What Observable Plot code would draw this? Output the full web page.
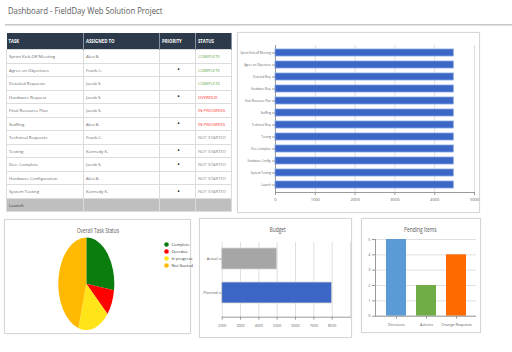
<!DOCTYPE html>
<html><head><meta charset="utf-8">
<script src="https://cdn.jsdelivr.net/npm/d3@7"></script>
<script src="https://cdn.jsdelivr.net/npm/@observablehq/plot@0.6"></script>
<style>
html,body{margin:0;padding:0;background:#fff;width:512px;height:352px;overflow:hidden;font-family:"Open Sans",Lato,sans-serif;position:relative;}
.panel{position:absolute;border:1px solid #d6d6d6;box-sizing:border-box;background:#fff;box-shadow:0 0 1px #e6e6e6;}
.ptitle{position:absolute;font-size:7px;color:#595959;white-space:nowrap;transform-origin:center center;}
#maintitle{position:absolute;left:8px;top:4px;font-size:9px;color:#5a5a5a;white-space:nowrap;transform-origin:left top;}
#rule{position:absolute;left:5px;top:24px;width:507px;height:1px;background:#c8c8c8;border-bottom:1px solid #e2e2e2;}
table{position:absolute;left:6px;top:33px;width:225px;border-collapse:collapse;table-layout:fixed;font-size:4.3px;color:#6a6a6a;}
th{background:#2c3a4c;color:#fff;text-align:left;font-weight:bold;height:16px;padding:0 0 0 2px;border-right:1px solid #8892a0;}
td{height:12.5px;padding:0 0 0 2px;border:1px solid #dcdcdc;white-space:nowrap;overflow:hidden;}
td.pri{text-align:center;color:#222;font-size:7px;}
tr.launch td{background:#bfbfbf;color:#333;}
.plotbox{position:absolute;}
</style></head>
<body>
<div id="maintitle">Dashboard - FieldDay Web Solution Project</div>
<div id="rule"></div>
<script>
// ---------- data ----------
const tableHeaders = ["TASK", "ASSIGNED TO", "PRIORITY", "STATUS"];
const taskNames = ["Sprint Kick-Off Meeting", "Agree on Objectives", "Detailed Requests", "Hardware Request", "Final Resource Plan", "Staffing", "Technical Requests", "Testing", "Dev. Complete", "Hardware Configuration", "System Testing", "Launch"];
const assignedTo = ["Alex B.", "Frank C.", "Jacob S.", "Jacob S.", "Jacob S.", "Alex B.", "Frank C.", "Kennedy K.", "Jacob S.", "Alex B.", "Kennedy K.", ""];
const priorityMarks = ["", "•", "", "•", "", "•", "", "•", "•", "", "•", ""];
const statusText = ["COMPLETE", "COMPLETE", "COMPLETE", "OVERDUE", "IN PROGRESS", "IN PROGRESS", "NOT STARTED", "NOT STARTED", "NOT STARTED", "NOT STARTED", "NOT STARTED", ""];
const statusTextColors = {"COMPLETE": "#63a846", "OVERDUE": "#ff2a2a", "IN PROGRESS": "#ff3b3b", "NOT STARTED": "#8c8c8c", "": "#333"};

const ganttLabels = ["Sprint Kick-off Meeting", "Agree on Objectives", "Detailed Req.", "Hardware Req.", "Final Resource Plan", "Staffing", "Technical Req.", "Testing", "Dev. Complete", "Hardware Config.", "System Testing", "Launch"];
const ganttValues = [4480, 4480, 4480, 4480, 4480, 4480, 4480, 4480, 4480, 4480, 4480, 4480];
const ganttTicks = [0, 1000, 2000, 3000, 4000, 5000];

const statusCategories = ["Complete", "Overdue", "In progress", "Not Started"];
const statusCounts = [3, 1, 2, 5];
const statusColors = ["#0b7d0e", "#ff0000", "#ffe41a", "#ffb900"];

const budgetCategories = ["Actual", "Planned"];
const budgetValues = [5000, 8000];
const budgetColors = ["#a6a6a6", "#3b66c5"];
const budgetTicks = [2000, 3000, 4000, 5000, 6000, 7000, 8000];
const budgetDomain = [2000, 9000];

const pendingCategories = ["Decisions", "Actions", "Change Requests"];
const pendingValues = [5, 2, 4];
const pendingColors = ["#5b9bd5", "#70ad47", "#ff6a00"];
const pendingTicks = [0, 1, 2, 3, 4, 5];

// ---------- helpers ----------
const FONT = "'Open Sans', Lato, sans-serif";
function place(el, left, top) {
  const d = document.createElement("div");
  d.className = "plotbox";
  d.style.left = left + "px"; d.style.top = top + "px";
  d.appendChild(el);
  document.body.appendChild(d);
  return d;
}
function panel(left, top, w, h) {
  const d = document.createElement("div");
  d.className = "panel";
  Object.assign(d.style, {left: left + "px", top: top + "px", width: w + "px", height: h + "px"});
  document.body.appendChild(d);
}
function ptitle(text, cx, cy, sx) {
  const d = document.createElement("div");
  d.className = "ptitle";
  d.textContent = text;
  document.body.appendChild(d);
  const w = d.offsetWidth, h = d.offsetHeight;
  d.style.left = (cx - w / 2) + "px"; d.style.top = (cy - h / 2) + "px";
  d.style.transform = `scaleX(${sx})`;
}
const baseStyle = {background: "transparent", fontSize: "4px", fontFamily: FONT, color: "#5f5f5f", overflow: "visible"};

document.getElementById("maintitle").style.transform = "scaleX(0.86)";

// ---------- table ----------
const table = document.createElement("table");
const colW = [77, 76, 36, 36];
const cg = document.createElement("colgroup");
colW.forEach(w => { const c = document.createElement("col"); c.style.width = w + "px"; cg.appendChild(c); });
table.appendChild(cg);
const thead = document.createElement("tr");
tableHeaders.forEach(h => { const th = document.createElement("th"); th.textContent = h; thead.appendChild(th); });
table.appendChild(thead);
taskNames.forEach((t, i) => {
  const tr = document.createElement("tr");
  if (t === "Launch") tr.className = "launch";
  const cells = [t, assignedTo[i], priorityMarks[i], statusText[i]];
  cells.forEach((c, j) => {
    const td = document.createElement("td");
    td.textContent = c;
    if (j === 2) td.className = "pri";
    if (j === 3) td.style.color = statusTextColors[c];
    tr.appendChild(td);
  });
  table.appendChild(tr);
});
document.body.appendChild(table);

// ---------- gantt-like bar chart ----------
panel(237, 32, 243, 181);
const ganttData = ganttLabels.map((label, i) => ({label, value: ganttValues[i]}));
const gantt = Plot.plot({
  width: 243, height: 181,
  marginLeft: 38, marginRight: 6, marginTop: 13, marginBottom: 21,
  style: baseStyle,
  x: {domain: [0, 5000], label: null},
  y: {domain: ganttLabels, paddingInner: 0.42, paddingOuter: 0.21, label: null},
  marks: [
    Plot.gridX(ganttTicks, {stroke: "#dedede", strokeOpacity: 1}),
    Plot.ruleX([0], {stroke: "#9a9a9a"}),
    Plot.barX(ganttData, {x: "value", y: "label", fill: "#3b66c5", stroke: "#86a4e3", strokeWidth: 0.8}),
    Plot.frame({anchor: "bottom", stroke: "#9a9a9a"}),
    Plot.axisX({ticks: ganttTicks, tickSize: 3, tickPadding: 3, stroke: "#9a9a9a", fontSize: 4, label: null, tickFormat: d => String(d)}),
    Plot.axisY({tickSize: 3, tickPadding: 1.5, stroke: "#9a9a9a", fontSize: 2.9, label: null})
  ]
});
place(gantt, 237, 32);

// ---------- pie ----------
panel(4, 219, 187, 115);
ptitle("Overall Task Status", 97.5, 230, 0.68);
const pieData = statusCategories.map((status, i) => ({status, count: statusCounts[i]}));
const pieCx = 82.3, pieCy = 64.8, pieRx = 28, pieRy = 46.2;
function pieMark(index, scales) {
  const color = scales && scales.color ? scales.color : (s => statusColors[statusCategories.indexOf(s)]);
  const g = d3.create("svg:g").attr("transform", `translate(${pieCx},${pieCy}) scale(${pieRx / pieRy},1)`);
  const arcs = d3.pie().sort(null).value(d => d.count)(pieData);
  g.selectAll("path").data(arcs).join("path")
    .attr("d", d3.arc().innerRadius(0).outerRadius(pieRy))
    .attr("fill", d => color(d.data.status));
  return g.node();
}
const pie = Plot.plot({
  width: 187, height: 115,
  marginLeft: 0, marginRight: 0, marginTop: 0, marginBottom: 0,
  style: baseStyle,
  color: {domain: statusCategories, range: statusColors},
  y: {type: "point", domain: statusCategories, range: [21, 49.5], axis: null},
  marks: [
    pieMark,
    Plot.dot(pieData, {y: "status", fill: "status", r: 2.3, frameAnchor: "left", dx: 162}),
    Plot.text(pieData, {y: "status", text: "status", frameAnchor: "left", dx: 167, textAnchor: "start", fontSize: 4, fill: "#333"})
  ]
});
place(pie, 4, 219);

// ---------- budget ----------
panel(199, 218, 153, 120);
ptitle("Budget", 277, 229, 0.7);
const budgetData = budgetCategories.map((cat, i) => ({cat, value: budgetValues[i]}));
const budget = Plot.plot({
  width: 153, height: 120,
  marginLeft: 22.7, marginRight: 2, marginTop: 24, marginBottom: 21.3,
  style: baseStyle,
  x: {domain: budgetDomain, label: null},
  y: {domain: budgetCategories, range: [23.9, 92.5], paddingInner: 0.37, paddingOuter: 0.185, label: null},
  color: {domain: budgetCategories, range: budgetColors},
  marks: [
    Plot.gridX(d3.range(budgetDomain[0], budgetDomain[1] + 1, 1000), {stroke: "#e0e0e0", strokeOpacity: 1}),
    Plot.barX(budgetData, {x1: budgetDomain[0], x2: "value", y: "cat", fill: "cat", stroke: "#d4d4d4", strokeWidth: 0.8}),
    Plot.frame({anchor: "bottom", stroke: "#9a9a9a"}),
    Plot.axisX({ticks: budgetTicks, tickSize: 3, tickPadding: 4, stroke: "#9a9a9a", fontSize: 3.6, label: null, tickFormat: d => String(d)}),
    Plot.axisY({tickSize: 3, tickPadding: 1.5, stroke: "#9a9a9a", fontSize: 3.8, label: null})
  ]
});
place(budget, 199, 218);

// ---------- pending ----------
panel(361, 218, 120, 115);
ptitle("Pending Items", 420, 229, 0.7);
const pendingData = pendingCategories.map((cat, i) => ({cat, value: pendingValues[i]}));
const pending = Plot.plot({
  width: 120, height: 115,
  marginLeft: 14, marginRight: 5, marginTop: 21, marginBottom: 17.3,
  style: baseStyle,
  x: {domain: pendingCategories, padding: 0.34, label: null},
  y: {domain: [0, 5], label: null},
  color: {domain: pendingCategories, range: pendingColors},
  marks: [
    Plot.gridY(pendingTicks, {stroke: "#e0e0e0", strokeOpacity: 1}),
    Plot.barY(pendingData, {x: "cat", y: "value", fill: "cat"}),
    Plot.ruleY([0], {stroke: "#9a9a9a"}),
    Plot.frame({anchor: "left", stroke: "#9a9a9a"}),
    Plot.axisX({tickSize: 3, tickPadding: 4, stroke: "#9a9a9a", fontSize: 3.8, label: null}),
    Plot.axisY({ticks: pendingTicks, tickSize: 3, tickPadding: 2, stroke: "#9a9a9a", fontSize: 3.8, label: null, tickFormat: d => String(d)})
  ]
});
place(pending, 361, 218);
</script>
</body></html>
